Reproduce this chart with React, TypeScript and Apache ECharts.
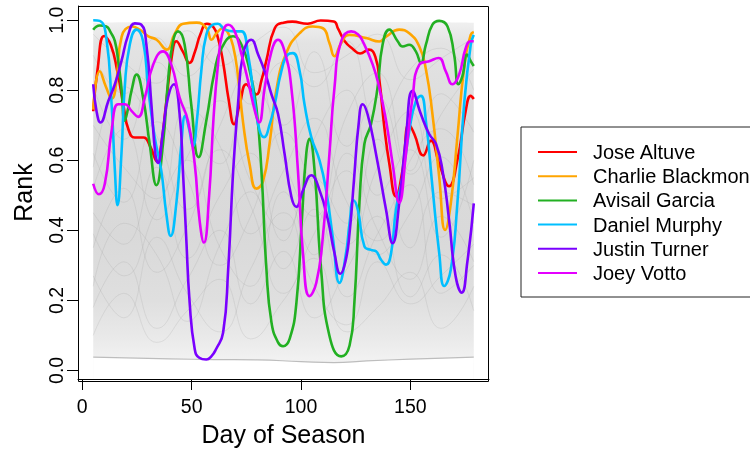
import React, { useEffect, useRef } from "react";
import * as echarts from "echarts";

const FONT = "'Liberation Sans', Arial, Helvetica, sans-serif";

const players = ["Jose Altuve", "Charlie Blackmon", "Avisail Garcia", "Daniel Murphy", "Justin Turner", "Joey Votto"];
const colors = ["#FF0000", "#FFA500", "#22B022", "#00BFFF", "#7A00FF", "#E400FF"];

const xTicks = [0, 50, 100, 150];
const yTicks = [0, 0.2, 0.4, 0.6, 0.8, 1.0];

const altuve = [[5,0.74],[7,0.86],[10,0.955],[13,0.93],[16,0.855],[19,0.75],[21,0.69],[24,0.665],[28,0.665],[31,0.64],[34.3,0.596],[36,0.64],[38.3,0.76],[41,0.9],[43,0.94],[46,0.91],[49,0.878],[51.5,0.91],[54,0.96],[57,0.99],[60,0.98],[62,0.95],[64.3,0.883],[67,0.77],[69.4,0.703],[72,0.76],[75,0.817],[77.5,0.8],[79.6,0.788],[82,0.83],[84.1,0.883],[88,0.977],[92,0.993],[96,0.996],[103,0.99],[109,0.999],[115,0.996],[117,0.975],[120,0.94],[123.7,0.918],[127,0.905],[131,0.916],[134,0.895],[136,0.82],[138,0.7],[140.4,0.59],[143.4,0.497],[146.4,0.571],[149.4,0.703],[151.8,0.675],[155.9,0.614],[159.4,0.656],[163.2,0.59],[167.7,0.526],[171.5,0.6],[175.3,0.741],[177.6,0.784],[179,0.775]];

const blackmon = [[5,0.745],[8,0.854],[10.8,0.81],[13.5,0.776],[15.5,0.82],[18,0.953],[22.7,0.982],[26.4,0.972],[30.2,0.954],[34,0.944],[38.6,0.916],[42.4,0.963],[46.2,0.99],[52.3,0.993],[56.8,0.977],[59.1,0.944],[61.4,0.963],[64.3,0.977],[66.7,0.963],[69,0.925],[71.2,0.84],[73.5,0.709],[76.6,0.585],[79.6,0.519],[82.6,0.539],[85.7,0.651],[88.7,0.8],[93.3,0.906],[99.4,0.963],[105.4,0.982],[110,0.977],[113,0.935],[115.3,0.897],[118.4,0.935],[122.2,0.958],[129.8,0.949],[135.8,0.939],[138.9,0.953],[144.9,0.973],[149.5,0.963],[154.1,0.925],[157.1,0.86],[160.1,0.732],[163.2,0.552],[165.9,0.401],[168.5,0.477],[171.5,0.666],[174.6,0.864],[177.6,0.958],[179,0.966]];

const garcia = [[5,0.973],[8,0.985],[11,0.982],[13,0.965],[14.9,0.94],[16.5,0.88],[17.9,0.807],[19.4,0.713],[21,0.75],[22.5,0.798],[24.8,0.845],[27.8,0.779],[30.8,0.647],[33.9,0.529],[36.9,0.647],[39.2,0.826],[41.5,0.94],[43.8,0.968],[46.8,0.93],[49.8,0.76],[53.2,0.609],[56.7,0.713],[60.5,0.854],[63.7,0.92],[69,0.954],[72.8,0.93],[76.6,0.854],[79.6,0.75],[81.9,0.571],[84.2,0.288],[86.5,0.137],[89.5,0.08],[91.8,0.069],[94.8,0.09],[97.9,0.193],[100.4,0.43],[102.4,0.618],[103.9,0.661],[106.2,0.571],[109.2,0.288],[113,0.099],[118.4,0.04],[122.2,0.071],[124.4,0.193],[126.7,0.477],[129,0.647],[132,0.703],[135,0.807],[137.3,0.93],[140.4,0.973],[144.2,0.94],[146.5,0.925],[149.5,0.93],[152.5,0.911],[154.8,0.878],[157.1,0.93],[160.1,0.987],[163.2,0.998],[167,0.982],[170,0.902],[172,0.817],[173.8,0.84],[176,0.902],[177.6,0.883],[179,0.869]];

const murphy = [[5,1.0],[8,0.998],[11,0.949],[13.4,0.76],[14.9,0.571],[16.1,0.472],[17.9,0.618],[19.4,0.807],[21.7,0.93],[24.8,0.973],[27.8,0.94],[30.1,0.807],[33.1,0.666],[36.1,0.571],[38.4,0.448],[40.4,0.384],[43,0.477],[45.3,0.647],[47.1,0.727],[48.8,0.69],[50.6,0.64],[52.5,0.72],[54.4,0.854],[56.7,0.958],[59.7,0.987],[62,0.99],[65.2,0.973],[69.7,0.968],[72.8,0.968],[75.8,0.902],[78.9,0.76],[81.1,0.684],[83.1,0.666],[85.7,0.703],[88,0.76],[91,0.854],[94,0.902],[96.3,0.906],[99.4,0.854],[101.6,0.76],[104.7,0.666],[108.5,0.599],[111.5,0.514],[114.5,0.382],[117.6,0.25],[120.6,0.335],[122.2,0.42],[124,0.486],[126,0.458],[129,0.354],[132,0.344],[134.3,0.34],[136.6,0.316],[138.9,0.302],[141.2,0.335],[143.4,0.458],[146.4,0.552],[149.5,0.684],[152.5,0.769],[154.8,0.784],[157.1,0.713],[160.1,0.524],[163.2,0.335],[165.5,0.241],[168.5,0.288],[171.5,0.477],[174.6,0.76],[177.6,0.93],[179,0.958]];

const turner = [[5,0.817],[6.5,0.741],[8.3,0.708],[11.9,0.769],[14.9,0.817],[17.9,0.883],[21,0.958],[24,0.991],[27,0.987],[29.3,0.93],[31.6,0.76],[33.4,0.618],[34.6,0.592],[36.9,0.684],[39.2,0.779],[41.9,0.817],[44.5,0.732],[46,0.571],[47.5,0.382],[49.1,0.193],[51.4,0.061],[53.5,0.036],[56.7,0.031],[59,0.04],[61.2,0.061],[64.4,0.108],[66.7,0.288],[69,0.571],[71.2,0.76],[73.5,0.902],[77.3,0.944],[80.4,0.902],[83.4,0.854],[86.5,0.788],[89.5,0.732],[92.5,0.618],[95.6,0.496],[97.9,0.467],[100.9,0.514],[104.7,0.557],[108.5,0.514],[112.3,0.43],[115.3,0.335],[118,0.276],[120.3,0.31],[122.2,0.392],[124.3,0.55],[126.3,0.7],[128.2,0.76],[130.5,0.73],[134.3,0.618],[138.9,0.458],[141.9,0.363],[144.9,0.477],[148,0.666],[151,0.798],[154.8,0.732],[158.6,0.675],[161.7,0.647],[164.7,0.571],[167.7,0.43],[170.7,0.269],[173.5,0.222],[176,0.307],[179,0.477]];

const votto = [[5,0.533],[7.6,0.503],[10.3,0.533],[13.4,0.684],[16.4,0.76],[19.4,0.76],[22.5,0.741],[25.5,0.724],[28.6,0.779],[32.4,0.873],[36.9,0.911],[40.7,0.873],[44.5,0.779],[48.3,0.713],[51.4,0.59],[53.6,0.43],[55.6,0.365],[58,0.5],[60,0.72],[62,0.87],[64,0.96],[66.7,0.987],[69.7,0.968],[72.8,0.902],[75.8,0.826],[78.9,0.741],[80.8,0.708],[83.4,0.807],[86.5,0.911],[89.5,0.944],[92.5,0.911],[95.6,0.807],[98.6,0.571],[100.9,0.335],[103.9,0.212],[107,0.25],[110,0.382],[113,0.618],[115.3,0.807],[118.4,0.94],[122.9,0.968],[126,0.96],[128.2,0.94],[132.8,0.873],[135.8,0.807],[138.9,0.713],[141.9,0.59],[144.9,0.479],[148,0.618],[151,0.779],[154.1,0.873],[158.6,0.883],[162.9,0.892],[166.2,0.854],[169.2,0.817],[172.3,0.845],[175.3,0.92],[177.6,0.94],[179,0.94]];

const playerData = [altuve, blackmon, garcia, murphy, turner, votto];

// envelope of the grey background curves (all other players)
const bandTop = [[5,0.993],[40,0.995],[90,0.994],[140,0.995],[179,0.993]];
const bandBottom = [[5,0.038],[20,0.036],[40,0.033],[60,0.031],[80,0.03],[100,0.025],[115,0.022],[130,0.027],[150,0.032],[165,0.035],[179,0.038]];

// a sample of the faint grey curves
const greyDays = [5,19,34,48,63,77,92,106,121,135,150,164,179];
const grey1 = [0.62,0.48,0.71,0.55,0.30,0.44,0.68,0.52,0.36,0.58,0.74,0.49,0.55];
const grey2 = [0.35,0.52,0.28,0.41,0.63,0.47,0.22,0.39,0.57,0.33,0.45,0.61,0.42];
const grey3 = [0.81,0.66,0.88,0.72,0.59,0.83,0.70,0.91,0.64,0.78,0.56,0.73,0.86];
const grey4 = [0.18,0.31,0.12,0.26,0.40,0.19,0.34,0.15,0.29,0.44,0.21,0.33,0.17];
const grey5 = [0.52,0.69,0.43,0.61,0.77,0.54,0.40,0.66,0.80,0.50,0.63,0.38,0.60];
const grey6 = [0.27,0.15,0.38,0.22,0.11,0.29,0.45,0.24,0.13,0.31,0.19,0.27,0.36];
const grey7 = [0.90,0.79,0.95,0.84,0.93,0.76,0.88,0.81,0.94,0.71,0.86,0.92,0.80];
const grey8 = [0.45,0.36,0.58,0.32,0.50,0.62,0.37,0.55,0.42,0.66,0.35,0.51,0.47];
const grey9 = [0.70,0.58,0.49,0.75,0.64,0.39,0.57,0.72,0.48,0.37,0.60,0.69,0.53];
const grey10 = [0.10,0.22,0.08,0.17,0.26,0.09,0.20,0.32,0.11,0.18,0.28,0.12,0.24];
const grey11 = [0.58,0.81,0.67,0.46,0.70,0.86,0.60,0.44,0.73,0.85,0.57,0.79,0.68];
const grey12 = [0.39,0.27,0.46,0.60,0.35,0.24,0.51,0.33,0.62,0.40,0.26,0.44,0.31];
const grey13 = [0.96,0.88,0.82,0.97,0.87,0.93,0.98,0.85,0.90,0.96,0.83,0.89,0.95];
const grey14 = [0.24,0.42,0.33,0.14,0.36,0.51,0.29,0.46,0.21,0.39,0.53,0.22,0.30];
const greyLines = [grey1, grey2, grey3, grey4, grey5, grey6, grey7, grey8, grey9, grey10, grey11, grey12, grey13, grey14];

export default function App() {
  const ref = useRef<HTMLDivElement>(null);
  useEffect(() => {
    const chart = echarts.init(ref.current!, null, { renderer: "svg" });
    const series: any[] = [];
    series.push({
      name: "band", type: "line", data: bandTop, smooth: true, symbol: "none", silent: true, z: 1,
      lineStyle: { width: 0 },
      areaStyle: {
        origin: "start", opacity: 1,
        color: new echarts.graphic.LinearGradient(0, 0, 0, 1, [
          { offset: 0, color: "#f0f0f0" },
          { offset: 0.06, color: "#e3e3e3" },
          { offset: 0.3, color: "#dbdbdb" },
          { offset: 0.6, color: "#d9d9d9" },
          { offset: 0.78, color: "#dfdfdf" },
          { offset: 0.88, color: "#e9e9e9" },
          { offset: 0.95, color: "#f2f2f2" },
          { offset: 1, color: "#f2f2f2" },
        ]),
      },
    });
    series.push({
      name: "bandBottom", type: "line", data: bandBottom, smooth: true, symbol: "none", silent: true, z: 1,
      lineStyle: { width: 1.2, color: "#bdbdbd" },
      areaStyle: { origin: "start", color: "#ffffff", opacity: 1 },
    });
    greyLines.forEach((g, i) => {
      series.push({
        name: "grey" + i, type: "line", data: g.map((v, j) => [greyDays[j], v]), smooth: true,
        symbol: "none", silent: true, z: 2,
        lineStyle: { width: 0.7, color: "rgba(160,160,160,0.3)" },
      });
    });
    players.forEach((p, i) => {
      series.push({
        name: p, type: "line", data: playerData[i], smooth: true, symbol: "none", showSymbol: false, z: 3,
        color: colors[i],
        lineStyle: { width: 2.6, color: colors[i] },
      });
    });
    const tickStyle = { color: "#000", width: 1 };
    chart.setOption({
      animation: false,
      grid: { left: 78, top: 6, width: 411, height: 376, show: false },
      xAxis: {
        type: "value", min: -1.96, max: 185.96,
        name: "Day of Season", nameLocation: "middle", nameGap: 42,
        nameTextStyle: { fontSize: 25, fontFamily: FONT, color: "#000" },
        axisLine: { show: true, onZero: false, lineStyle: tickStyle },
        axisTick: { show: true, inside: false, length: 11, customValues: xTicks, lineStyle: tickStyle },
        axisLabel: { show: true, customValues: xTicks, fontSize: 19.5, fontFamily: FONT, color: "#000", margin: 17, formatter: (v: number) => String(v) },
        splitLine: { show: false },
      },
      yAxis: {
        type: "value", min: -0.0246, max: 1.0405,
        name: "Rank", nameLocation: "middle", nameGap: 43,
        nameTextStyle: { fontSize: 25, fontFamily: FONT, color: "#000" },
        axisLine: { show: true, onZero: false, lineStyle: tickStyle },
        axisTick: { show: true, inside: false, length: 11, customValues: yTicks, lineStyle: tickStyle },
        axisLabel: { show: true, customValues: yTicks, rotate: 90, fontSize: 19.5, fontFamily: FONT, color: "#000", margin: 12, formatter: (v: number) => v.toFixed(1) },
        splitLine: { show: false },
      },
      legend: {
        data: players,
        orient: "vertical",
        left: 521, top: 127,
        padding: [15, 30, 14, 17],
        itemWidth: 39, itemHeight: 2, itemGap: 4.2,
        icon: "rect",
        borderColor: "#222", borderWidth: 1,
        selectedMode: false,
        textStyle: { fontSize: 20, fontFamily: FONT, color: "#000", lineHeight: 20, padding: [0, 0, 0, 11] },
      },
      graphic: [
        { type: "rect", z: 100, silent: true, shape: { x: 78.5, y: 6.5, width: 410, height: 375 }, style: { fill: "none", stroke: "#000", lineWidth: 1 } },
      ],
      series,
    });
    return () => chart.dispose();
  }, []);
  return <div ref={ref} style={{ position: "fixed", left: 0, top: 0, width: 750, height: 451 }} />;
}
